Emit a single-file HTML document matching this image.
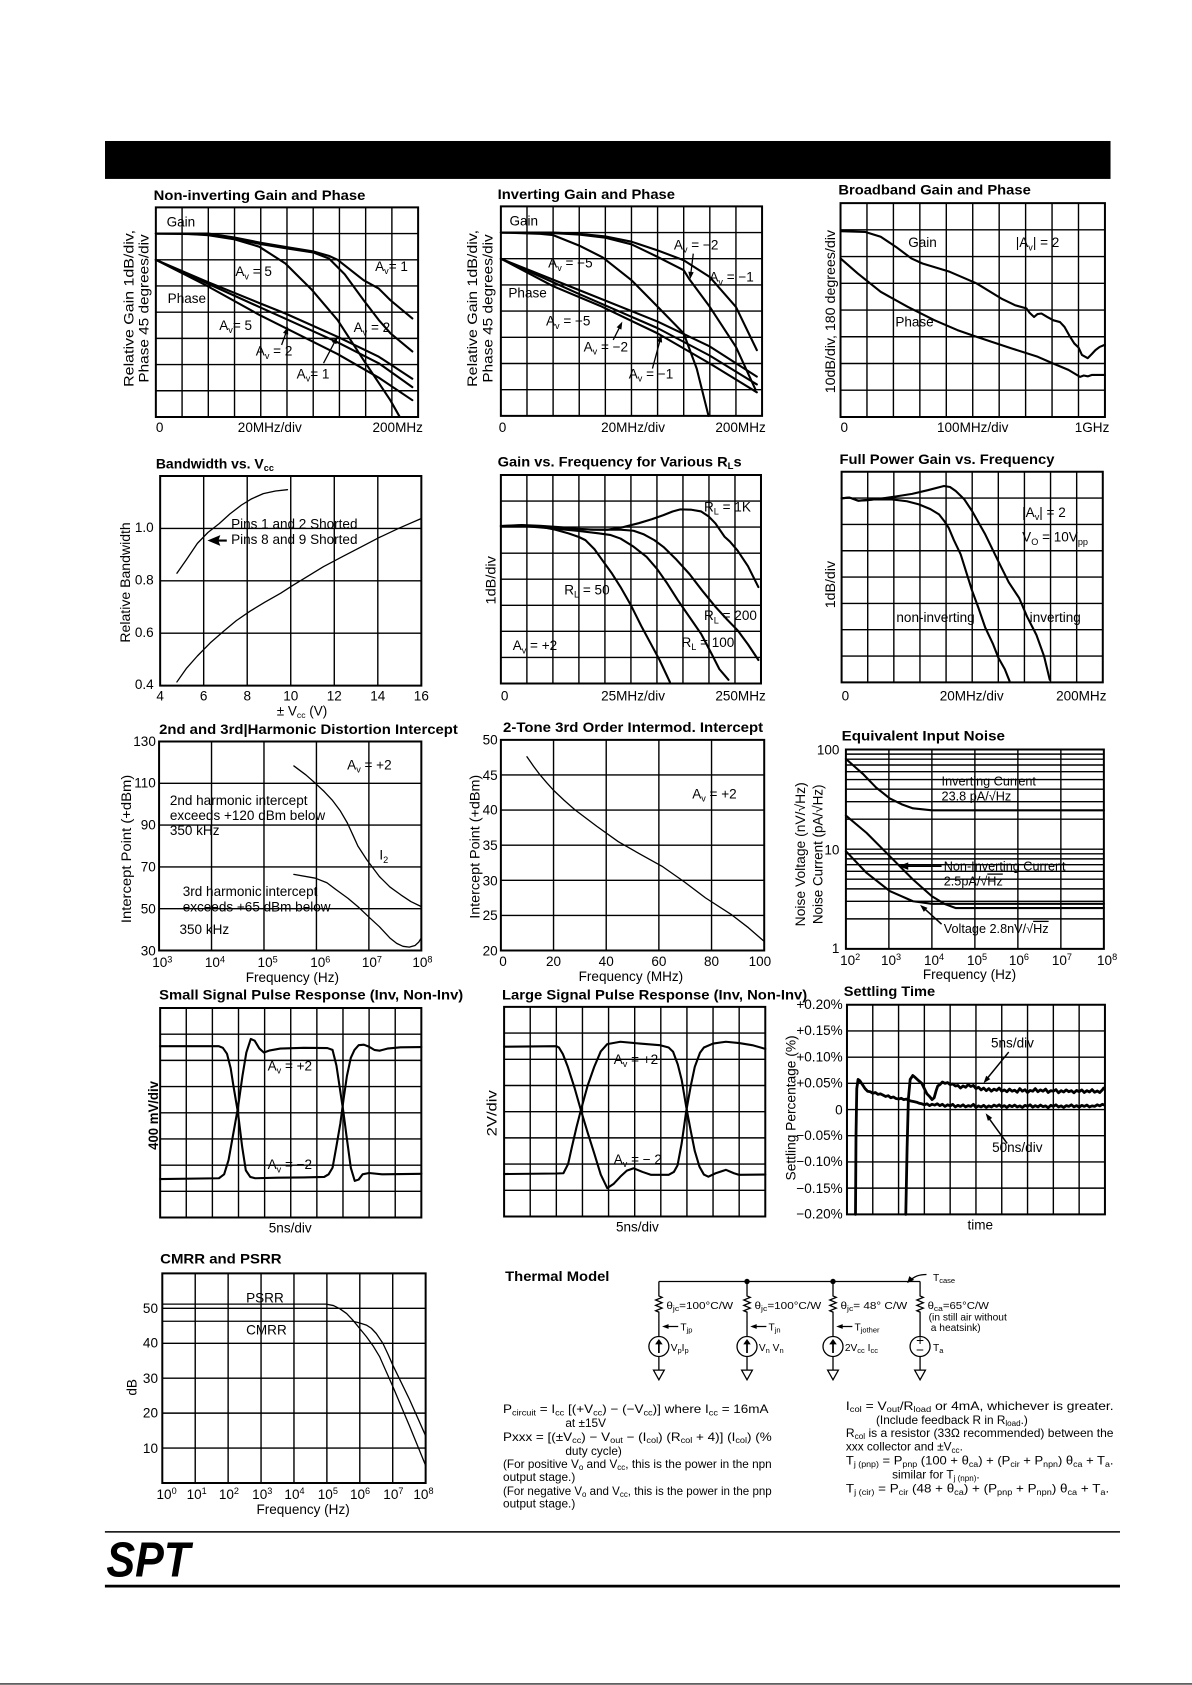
<!DOCTYPE html>
<html><head><meta charset="utf-8"><style>
html,body{margin:0;padding:0;background:#fff;}
svg{display:block;}
text{font-family:"Liberation Sans",Arial,sans-serif;font-size:12.6px;fill:#000;}
.tt{font-weight:bold;font-size:13px;}
.gr{fill:none;stroke:#000;stroke-width:1.4;vector-effect:non-scaling-stroke;}
.bx{fill:none;stroke:#000;stroke-width:2;vector-effect:non-scaling-stroke;}
.cv{fill:none;stroke:#000;stroke-width:2.1;stroke-linejoin:round;stroke-linecap:round;vector-effect:non-scaling-stroke;}
.cn{fill:none;stroke:#000;stroke-width:1.3;stroke-linejoin:round;stroke-linecap:round;vector-effect:non-scaling-stroke;}
.ck{fill:none;stroke:#000;stroke-width:2.8;stroke-linejoin:round;stroke-linecap:round;vector-effect:non-scaling-stroke;}
.ln{fill:none;stroke:#000;stroke-width:1.2;}
.sm{font-size:9.5px;}
.tx{font-size:11px;}
.nz{font-size:11.8px;}
</style></head><body>
<svg width="1192" height="1685" viewBox="0 0 1109 1568" preserveAspectRatio="none" xmlns="http://www.w3.org/2000/svg">
<rect x="0" y="0" width="1109" height="1568" fill="#fff"/>
<rect x="97.7" y="131.2" width="935.5" height="35.3" fill="#000"/>

<!-- ============ C1 Non-inverting ============ -->
<text class="tt" x="143" y="186" textLength="197" lengthAdjust="spacingAndGlyphs">Non-inverting Gain and Phase</text>
<g transform="translate(145,193) scale(24.4,24.375)">
<path class="gr" d="M1,0V8M2,0V8M3,0V8M4,0V8M5,0V8M6,0V8M7,0V8M8,0V8M9,0V8M0,1H10M0,2H10M0,3H10M0,4H10M0,5H10M0,6H10M0,7H10"/>
<path class="bx" d="M0,0H10V8H0Z"/>
<path class="cv" d="M0,1 L1,1 L2,1.06 L3,1.22 L3.94,1.5 L4.94,2.14 L5.96,3.16 L6.93,4.3 L7.92,5.83 L8.94,7.36 L9.3,8"/>
<path class="cv" d="M0,1 L2,1.03 L3,1.2 L4,1.4 L5,1.57 L6,1.72 L6.6,1.95 L7.2,2.55 L7.92,3.54 L8.5,4.3 L8.94,4.8 L9.78,5.5"/>
<path class="cv" d="M0,1 L2,1.0 L3,1.15 L4,1.35 L5,1.52 L6,1.68 L6.6,1.85 L6.93,2.0 L7.92,2.78 L8.5,3.1 L8.94,3.54 L9.78,4.24"/>
<path class="cv" d="M0,2 L1.96,2.84 L3.94,3.65 L4.94,4.05 L6.93,4.94 L8.5,5.7 L9.78,6.54"/>
<path class="cv" d="M0,2 L1.96,2.9 L3.94,3.8 L4.94,4.25 L6.93,5.15 L8.5,5.95 L9.78,6.86"/>
<path class="cv" d="M0,2 L1.96,3.0 L3.94,4.1 L4.94,4.6 L6.93,5.6 L8.5,6.5 L9.78,7.36"/>
</g>
<path class="ln" d="M262,321 L266.5,308.5 M301,338 L311.5,318"/>
<polygon points="268,304 268.1,311.4 263.3,309.8"/>
<polygon points="314,313 313,320.4 308.6,318.1"/>
<text x="155" y="211">Gain</text>
<text x="219" y="257">A<tspan font-size="8.5" dy="3">v</tspan><tspan dy="-3"> = 5</tspan></text>
<text x="349" y="252">A<tspan font-size="8.5" dy="3">v</tspan><tspan dy="-3">= 1</tspan></text>
<text x="156" y="282">Phase</text>
<text x="204" y="307">A<tspan font-size="8.5" dy="3">v</tspan><tspan dy="-3">= 5</tspan></text>
<text x="329" y="309">A<tspan font-size="8.5" dy="3">v</tspan><tspan dy="-3"> = 2</tspan></text>
<text x="238" y="331">A<tspan font-size="8.5" dy="3">v</tspan><tspan dy="-3"> = 2</tspan></text>
<text x="276" y="352">A<tspan font-size="8.5" dy="3">v</tspan><tspan dy="-3">= 1</tspan></text>
<text x="145" y="402">0</text>
<text x="251" y="402" text-anchor="middle">20MHz/div</text>
<text x="370" y="402" text-anchor="middle">200MHz</text>
<text transform="translate(124,287) rotate(-90)" text-anchor="middle" font-size="12.5" textLength="146" lengthAdjust="spacingAndGlyphs">Relative Gain 1dB/div,</text>
<text transform="translate(138,287) rotate(-90)" text-anchor="middle" font-size="12.5" textLength="138" lengthAdjust="spacingAndGlyphs">Phase 45 degrees/div</text>

<!-- ============ C2 Inverting ============ -->
<text class="tt" x="463" y="185" textLength="165" lengthAdjust="spacingAndGlyphs">Inverting Gain and Phase</text>
<g transform="translate(466,192) scale(24.3,24.375)">
<path class="gr" d="M1,0V8M2,0V8M3,0V8M4,0V8M5,0V8M6,0V8M7,0V8M8,0V8M9,0V8M0,1H10M0,2H10M0,3H10M0,4H10M0,5H10M0,6H10M0,7H10"/>
<path class="bx" d="M0,0H10V8H0Z"/>
<path class="cv" d="M0,1 L1.5,1.05 L2,1.1 L3,1.5 L3.9,1.95 L5,2.82 L6,3.83 L7,4.85 L7.5,6.2 L7.95,8"/>
<path class="cv" d="M0,1 L2,1.02 L3,1.08 L4,1.2 L5,1.45 L6,1.93 L7,2.44 L7.2,2.76 L8,3.84 L9,5.37 L9.75,7"/>
<path class="cv" d="M0,1 L2,1.0 L3,1.05 L4,1.15 L5,1.35 L6,1.68 L7,2.06 L8,2.7 L9,3.84 L9.8,5.49"/>
<path class="cv" d="M0,2 L3,3.2 L6,4.4 L8,5.35 L9.8,6.5"/>
<path class="cv" d="M0,2 L3,3.35 L6,4.65 L8,5.7 L9.8,6.8"/>
<path class="cv" d="M0,2 L2,3.05 L3.8,3.8 L6,4.85 L8,6.0 L9.8,7.1"/>
</g>
<path class="ln" d="M645,236 L642.8,254 M570.5,316.3 L576.5,304.5 M607,343 L614,317"/>
<polygon points="642,260 645.4,253.4 640.4,252.8"/>
<polygon points="579,299.3 578.1,306.7 573.7,304.5"/>
<polygon points="615.4,311.4 616,318.8 611.2,317.5"/>
<text x="474" y="210">Gain</text>
<text x="510" y="249">A<tspan font-size="8.5" dy="3">v</tspan><tspan dy="-3"> = −5</tspan></text>
<text x="473" y="277">Phase</text>
<text x="508" y="303">A<tspan font-size="8.5" dy="3">v</tspan><tspan dy="-3"> = −5</tspan></text>
<text x="543" y="327">A<tspan font-size="8.5" dy="3">v</tspan><tspan dy="-3"> = −2</tspan></text>
<text x="585" y="352">A<tspan font-size="8.5" dy="3">v</tspan><tspan dy="-3"> = −1</tspan></text>
<text x="627" y="232">A<tspan font-size="8.5" dy="3">v</tspan><tspan dy="-3"> = −2</tspan></text>
<text x="660" y="262">A<tspan font-size="8.5" dy="3">v</tspan><tspan dy="-3"> = −1</tspan></text>
<text x="464" y="402">0</text>
<text x="589" y="402" text-anchor="middle">20MHz/div</text>
<text x="689" y="402" text-anchor="middle">200MHz</text>
<text transform="translate(444,287) rotate(-90)" text-anchor="middle" font-size="12.5" textLength="146" lengthAdjust="spacingAndGlyphs">Relative Gain 1dB/div,</text>
<text transform="translate(458,287) rotate(-90)" text-anchor="middle" font-size="12.5" textLength="138" lengthAdjust="spacingAndGlyphs">Phase 45 degrees/div</text>

<!-- ============ C3 Broadband ============ -->
<text class="tt" x="780" y="181" textLength="179" lengthAdjust="spacingAndGlyphs">Broadband Gain and Phase</text>
<g transform="translate(782,189) scale(24.6,24.875)">
<path class="gr" d="M1,0V8M2,0V8M3,0V8M4,0V8M5,0V8M6,0V8M7,0V8M8,0V8M9,0V8M0,1H10M0,2H10M0,3H10M0,4H10M0,5H10M0,6H10M0,7H10"/>
<path class="bx" d="M0,0H10V8H0Z"/>
<path class="cv" d="M0,1.05 L0.94,1.08 L1.52,1.26 L2.1,1.64 L2.68,2.07 L3.1,2.26 L4.13,2.57 L5.14,3.0 L6.08,3.57 L6.6,3.82 L7.03,3.94 L7.15,4.1 L7.32,4.26 L7.45,4.15 L7.6,4.13 L7.8,4.25 L8.04,4.38 L8.3,4.45 L8.47,4.63 L8.65,4.95 L8.84,5.25 L9.0,5.4 L9.13,5.68 L9.35,5.8 L9.5,5.65 L9.64,5.5 L9.8,5.38 L10,5.3"/>
<path class="cv" d="M0,2.07 L0.65,2.63 L1.52,3.32 L2.54,3.88 L3.55,4.38 L4.42,4.75 L5.14,5.0 L6.45,5.43 L7.46,5.75 L8.04,6.0 L8.62,6.24 L9.06,6.5 L9.2,6.45 L9.35,6.48 L9.5,6.43 L10,6.43"/>
</g>
<text x="845" y="230">Gain</text>
<text x="945" y="230">|A<tspan font-size="8.5" dy="3">v</tspan><tspan dy="-3">| = 2</tspan></text>
<text x="833" y="304">Phase</text>
<text x="782" y="402">0</text>
<text x="905" y="402" text-anchor="middle">100MHz/div</text>
<text x="1016" y="402" text-anchor="middle">1GHz</text>
<text transform="translate(777,290) rotate(-90)" text-anchor="middle" font-size="12.5" textLength="152" lengthAdjust="spacingAndGlyphs">10dB/div, 180 degrees/div</text>

<!-- ============ C4 Bandwidth ============ -->
<text class="tt" x="145" y="436">Bandwidth vs. V<tspan font-size="8.5" dy="2.5">cc</tspan></text>
<g transform="translate(149,443) scale(20.25,24.375)">
<path class="gr" d="M2,0V8M4,0V8M6,0V8M8,0V8M10,0V8M0,2H12M0,4H12M0,6H12"/>
<path class="bx" d="M0,0H12V8H0Z"/>
<path class="cn" d="M0.77,3.71 L1.2,3.2 L1.71,2.57 L2.2,2.15 L2.72,1.81 L3.2,1.45 L3.73,1.11 L4.2,0.87 L4.74,0.67 L5.3,0.57 L5.85,0.52"/>
<path class="cn" d="M0.77,7.86 L1.2,7.35 L1.71,6.87 L2.3,6.37 L2.92,5.92 L3.5,5.52 L4.13,5.16 L4.8,4.82 L5.54,4.47 L6.1,4.17 L6.75,3.84 L7.5,3.46 L8.37,3.08 L9.2,2.72 L9.98,2.38 L11,1.98 L12,1.62"/>
</g>
<text x="215" y="492">Pins 1 and 2 Shorted</text>
<text x="215" y="506">Pins 8 and 9 Shorted</text>
<polygon points="193,503 205,498 203.5,502 211,502 211,504 203.5,504 205,508"/>
<text x="143" y="495" text-anchor="end">1.0</text>
<text x="143" y="544" text-anchor="end">0.8</text>
<text x="143" y="593" text-anchor="end">0.6</text>
<text x="143" y="641" text-anchor="end">0.4</text>
<text x="149" y="652" text-anchor="middle">4</text>
<text x="189.5" y="652" text-anchor="middle">6</text>
<text x="230" y="652" text-anchor="middle">8</text>
<text x="270.5" y="652" text-anchor="middle">10</text>
<text x="311" y="652" text-anchor="middle">12</text>
<text x="351.5" y="652" text-anchor="middle">14</text>
<text x="392" y="652" text-anchor="middle">16</text>
<text x="281" y="666" text-anchor="middle" font-size="11.5">± V<tspan font-size="8" dy="2">cc</tspan><tspan dy="-2"> (V)</tspan></text>
<text transform="translate(121,542) rotate(-90)" text-anchor="middle" font-size="12.5" textLength="112" lengthAdjust="spacingAndGlyphs">Relative Bandwidth</text>

<!-- ============ C5 Gain vs RL ============ -->
<text class="tt" x="463" y="434" textLength="227" lengthAdjust="spacingAndGlyphs">Gain vs. Frequency for Various R<tspan font-size="8.5" dy="2.5">L</tspan><tspan dy="-2.5">s</tspan></text>
<g transform="translate(466,442) scale(24.2,24.25)">
<path class="gr" d="M1,0V8M2,0V8M3,0V8M4,0V8M5,0V8M6,0V8M7,0V8M8,0V8M9,0V8M0,1H10M0,2H10M0,3H10M0,4H10M0,5H10M0,6H10M0,7H10"/>
<path class="bx" d="M0,0H10V8H0Z"/>
<path class="cv" d="M0,1.96 L0.8,1.92 L1.5,1.95 L2.2,2.0 L2.9,2.06 L3.5,2.1 L4.1,2.1 L4.7,2.0 L5.3,1.85 L5.8,1.7 L6.25,1.54 L6.6,1.4 L6.9,1.32 L7.3,1.33 L7.7,1.4 L8.0,1.6 L8.25,1.86 L8.6,2.37 L8.8,2.55 L9.1,2.9 L9.5,3.5 L9.9,4.3"/>
<path class="cv" d="M0,1.96 L1.0,1.95 L2.0,2.02 L2.9,2.08 L3.8,2.1 L4.6,2.1 L5.1,2.14 L5.5,2.28 L5.9,2.5 L6.25,2.76 L6.75,3.25 L7.25,3.8 L7.75,4.45 L8.25,5.06 L8.7,5.55 L9.1,5.96 L9.5,6.5 L9.9,7.1"/>
<path class="cv" d="M0,1.96 L1.0,1.97 L2.0,2.05 L3.0,2.15 L3.75,2.24 L4.2,2.3 L4.6,2.44 L5.1,2.75 L5.6,3.14 L6.0,3.6 L6.4,4.17 L6.8,4.8 L7.25,5.45 L7.7,6.1 L8.1,6.86 L8.4,7.45 L8.75,7.86"/>
<path class="cv" d="M0,1.96 L0.8,1.93 L1.5,1.98 L2.1,2.1 L2.6,2.24 L3.0,2.38 L3.25,2.5 L3.6,2.85 L3.9,3.27 L4.25,3.75 L4.6,4.3 L5.0,5.0 L5.4,5.8 L5.75,6.45 L6.1,7.1 L6.5,7.95"/>
</g>
<text x="655" y="476">R<tspan font-size="8.5" dy="3">L</tspan><tspan dy="-3"> = 1K</tspan></text>
<text x="525" y="553">R<tspan font-size="8.5" dy="3">L</tspan><tspan dy="-3"> = 50</tspan></text>
<text x="655" y="577">R<tspan font-size="8.5" dy="3">L</tspan><tspan dy="-3"> = 200</tspan></text>
<text x="477" y="605">A<tspan font-size="8.5" dy="3">v</tspan><tspan dy="-3"> = +2</tspan></text>
<text x="634" y="602">R<tspan font-size="8.5" dy="3">L</tspan><tspan dy="-3"> = 100</tspan></text>
<text x="466" y="652">0</text>
<text x="589" y="652" text-anchor="middle">25MHz/div</text>
<text x="689" y="652" text-anchor="middle">250MHz</text>
<text transform="translate(461,540) rotate(-90)" text-anchor="middle" font-size="12.5" textLength="45" lengthAdjust="spacingAndGlyphs">1dB/div</text>

<!-- ============ C6 Full Power ============ -->
<text class="tt" x="781" y="432" textLength="200" lengthAdjust="spacingAndGlyphs">Full Power Gain vs. Frequency</text>
<g transform="translate(783,439) scale(24.3,24.5)">
<path class="gr" d="M1,0V8M2,0V8M3,0V8M4,0V8M5,0V8M6,0V8M7,0V8M8,0V8M9,0V8M0,1H10M0,2H10M0,3H10M0,4H10M0,5H10M0,6H10M0,7H10"/>
<path class="bx" d="M0,0H10V8H0Z"/>
<path class="cv" d="M0,1.01 L0.3,0.98 L0.64,1.1 L1.0,1.08 L1.5,1.02 L2.0,0.95 L2.7,0.84 L3.3,0.7 L3.92,0.54 L4.15,0.58 L4.37,0.73 L4.7,1.05 L5.0,1.5 L5.5,2.38 L6.0,3.4 L6.4,4.2 L6.8,4.8 L7.1,5.5 L7.46,6.2 L7.75,7.0 L7.97,7.9"/>
<path class="cv" d="M0,1.01 L0.3,0.98 L0.64,1.1 L1.2,1.05 L1.93,1.05 L2.5,1.12 L2.96,1.24 L3.4,1.42 L3.73,1.62 L3.95,1.9 L4.1,2.13 L4.3,2.6 L4.56,3.14 L4.8,3.9 L5.0,4.53 L5.25,5.2 L5.5,5.92 L5.8,6.55 L6.0,7.06 L6.25,7.5 L6.43,7.95"/>
</g>
<text x="951" y="481">|A<tspan font-size="8.5" dy="3">v</tspan><tspan dy="-3">| = 2</tspan></text>
<text x="951" y="504">V<tspan font-size="8.5" dy="3">O</tspan><tspan dy="-3"> = 10V</tspan><tspan font-size="8.5" dy="3">pp</tspan></text>
<text x="834" y="579">non-inverting</text>
<text x="958" y="579">inverting</text>
<text x="783" y="652">0</text>
<text x="904" y="652" text-anchor="middle">20MHz/div</text>
<text x="1006" y="652" text-anchor="middle">200MHz</text>
<text transform="translate(777,544) rotate(-90)" text-anchor="middle" font-size="12.5" textLength="44" lengthAdjust="spacingAndGlyphs">1dB/div</text>

<!-- ============ C7 Harmonic ============ -->
<text class="tt" x="148" y="683" textLength="278" lengthAdjust="spacingAndGlyphs">2nd and 3rd|Harmonic Distortion Intercept</text>
<g transform="translate(148,690) scale(48.8,38.9)">
<path class="gr" d="M1,0V5M2,0V5M3,0V5M4,0V5M0,1H5M0,2H5M0,3H5M0,4H5"/>
<path class="bx" d="M0,0H5V5H0Z"/>
<path class="cn" d="M2.57,0.585 L2.8,0.8 L2.98,1.0 L3.15,1.2 L3.3,1.4 L3.45,1.65 L3.59,1.95 L3.7,2.25 L3.79,2.5 L3.96,2.83 L4.2,3.23 L4.4,3.48 L4.61,3.67 L4.8,3.83 L5.0,3.95"/>
<path class="cn" d="M2.57,3.18 L2.98,3.27 L3.2,3.38 L3.38,3.55 L3.6,3.75 L3.79,3.95 L4.0,4.2 L4.2,4.43 L4.4,4.7 L4.53,4.83 L4.65,4.9 L4.77,4.92 L4.88,4.88 L4.95,4.8 L5.0,4.7"/>
</g>
<text x="323" y="716">A<tspan font-size="8.5" dy="3">v</tspan><tspan dy="-3"> = +2</tspan></text>
<text x="158" y="749">2nd harmonic intercept</text>
<text x="158" y="763">exceeds +120 dBm below</text>
<text x="158" y="777">350 kHz</text>
<text x="353" y="800">I<tspan font-size="8.5" dy="3">2</tspan></text>
<text x="170" y="834">3rd harmonic intercept</text>
<text x="170" y="848">exceeds +65 dBm below</text>
<text x="167" y="869">350 kHz</text>
<text x="145" y="694" text-anchor="end">130</text>
<text x="145" y="733" text-anchor="end">110</text>
<text x="145" y="772" text-anchor="end">90</text>
<text x="145" y="811" text-anchor="end">70</text>
<text x="145" y="850" text-anchor="end">50</text>
<text x="145" y="889" text-anchor="end">30</text>
<text x="151" y="900" text-anchor="middle">10<tspan font-size="8.5" dy="-4.5">3</tspan></text>
<text x="200" y="900" text-anchor="middle">10<tspan font-size="8.5" dy="-4.5">4</tspan></text>
<text x="249" y="900" text-anchor="middle">10<tspan font-size="8.5" dy="-4.5">5</tspan></text>
<text x="298" y="900" text-anchor="middle">10<tspan font-size="8.5" dy="-4.5">6</tspan></text>
<text x="346" y="900" text-anchor="middle">10<tspan font-size="8.5" dy="-4.5">7</tspan></text>
<text x="393" y="900" text-anchor="middle">10<tspan font-size="8.5" dy="-4.5">8</tspan></text>
<text x="272" y="914" text-anchor="middle">Frequency (Hz)</text>
<text transform="translate(122,790) rotate(-90)" text-anchor="middle" font-size="12.5" textLength="138" lengthAdjust="spacingAndGlyphs">Intercept Point (+dBm)</text>

<!-- ============ C8 2-Tone ============ -->
<text class="tt" x="468" y="681" textLength="242" lengthAdjust="spacingAndGlyphs">2-Tone 3rd Order Intermod. Intercept</text>
<g transform="translate(466,688.5) scale(49,32.67)">
<path class="gr" d="M1,0V6M2,0V6M3,0V6M4,0V6M0,1H5M0,2H5M0,3H5M0,4H5M0,5H5"/>
<path class="bx" d="M0,0H5V6H0Z"/>
<path class="cn" d="M0.495,0.48 L0.62,0.75 L0.745,1.0 L0.87,1.22 L0.99,1.42 L1.2,1.72 L1.405,1.99 L1.82,2.46 L2.23,2.9 L2.65,3.26 L3.06,3.6 L3.47,4.03 L3.885,4.5 L4.38,4.98 L4.7,5.35 L5,5.74"/>
</g>
<text x="644" y="743">A<tspan font-size="8.5" dy="3">v</tspan><tspan dy="-3"> = +2</tspan></text>
<text x="463" y="693" text-anchor="end">50</text>
<text x="463" y="726" text-anchor="end">45</text>
<text x="463" y="758" text-anchor="end">40</text>
<text x="463" y="791" text-anchor="end">35</text>
<text x="463" y="824" text-anchor="end">30</text>
<text x="463" y="856" text-anchor="end">25</text>
<text x="463" y="889" text-anchor="end">20</text>
<text x="468" y="899" text-anchor="middle">0</text>
<text x="515" y="899" text-anchor="middle">20</text>
<text x="564" y="899" text-anchor="middle">40</text>
<text x="613" y="899" text-anchor="middle">60</text>
<text x="662" y="899" text-anchor="middle">80</text>
<text x="707" y="899" text-anchor="middle">100</text>
<text x="587" y="913" text-anchor="middle">Frequency (MHz)</text>
<text transform="translate(446,788) rotate(-90)" text-anchor="middle" font-size="12.5" textLength="134" lengthAdjust="spacingAndGlyphs">Intercept Point (+dBm)</text>

<!-- ============ C9 Noise ============ -->
<text class="tt" x="783" y="689" textLength="152" lengthAdjust="spacingAndGlyphs">Equivalent Input Noise</text>
<g transform="translate(787,697.5) scale(40,92.75)">
<path class="gr" d="M1,0V2M2,0V2M3,0V2M4,0V2M5,0V2M0,0.046H6M0,0.097H6M0,0.155H6M0,0.222H6M0,0.301H6M0,0.398H6M0,0.523H6M0,0.699H6M0,1H6M0,1.046H6M0,1.097H6M0,1.155H6M0,1.222H6M0,1.301H6M0,1.398H6M0,1.523H6M0,1.699H6"/>
<path class="bx" d="M0,0H6V2H0Z"/>
<path class="cv" d="M0,0.094 L0.2,0.17 L0.41,0.25 L0.7,0.38 L1.02,0.49 L1.3,0.55 L1.56,0.59 L2.0,0.61 L6,0.61"/>
<path class="cv" d="M0,0.662 L0.48,0.836 L1.02,1.07 L1.56,1.304 L2.0,1.472 L2.3,1.55 L2.55,1.59 L6,1.59"/>
<path class="cv" d="M0,1.02 L0.48,1.237 L1.02,1.42 L1.56,1.522 L2.0,1.548 L6,1.548"/>
</g>
<text class="nz" x="876" y="731">Inverting Current</text>
<text class="nz" x="876" y="745">23.8 pA/√<tspan text-decoration="overline">Hz</tspan></text>
<text class="nz" x="878" y="810">Non-Inverting Current</text>
<text class="nz" x="878" y="824">2.5pA/√<tspan text-decoration="overline">Hz</tspan></text>
<text class="nz" x="878" y="868">Voltage 2.8nV/√<tspan text-decoration="overline">Hz</tspan></text>
<path class="ln" d="M876,806H842" style="stroke-width:1.6"/>
<polygon points="836,806 845,802.5 845,809.5"/>
<path class="ln" d="M876,860 L860,845.5" style="stroke-width:1.4"/>
<polygon points="856,842 862.9,844.8 859.5,848.6"/>
<text x="781" y="702" text-anchor="end">100</text>
<text x="781" y="795" text-anchor="end">10</text>
<text x="781" y="887" text-anchor="end">1</text>
<text x="791" y="898" text-anchor="middle">10<tspan font-size="8.5" dy="-4.5">2</tspan></text>
<text x="829" y="898" text-anchor="middle">10<tspan font-size="8.5" dy="-4.5">3</tspan></text>
<text x="869" y="898" text-anchor="middle">10<tspan font-size="8.5" dy="-4.5">4</tspan></text>
<text x="909" y="898" text-anchor="middle">10<tspan font-size="8.5" dy="-4.5">5</tspan></text>
<text x="948" y="898" text-anchor="middle">10<tspan font-size="8.5" dy="-4.5">6</tspan></text>
<text x="988" y="898" text-anchor="middle">10<tspan font-size="8.5" dy="-4.5">7</tspan></text>
<text x="1030" y="898" text-anchor="middle">10<tspan font-size="8.5" dy="-4.5">8</tspan></text>
<text x="902" y="911" text-anchor="middle">Frequency (Hz)</text>
<text transform="translate(749,795) rotate(-90)" text-anchor="middle" font-size="12.5" textLength="134" lengthAdjust="spacingAndGlyphs">Noise Voltage (nV/√Hz)</text>
<text transform="translate(765,795) rotate(-90)" text-anchor="middle" font-size="12.5" textLength="130" lengthAdjust="spacingAndGlyphs">Noise Current (pA/√Hz)</text>

<!-- ============ C10 Small Signal ============ -->
<text class="tt" x="148" y="930" textLength="283" lengthAdjust="spacingAndGlyphs">Small Signal Pulse Response (Inv, Non-Inv)</text>
<g transform="translate(149,938) scale(24.3,24.375)">
<path class="gr" d="M1,0V8M2,0V8M3,0V8M4,0V8M5,0V8M6,0V8M7,0V8M8,0V8M9,0V8M0,1H10M0,2H10M0,3H10M0,4H10M0,5H10M0,6H10M0,7H10"/>
<path class="bx" d="M0,0H10V8H0Z"/>
<path class="cv" d="M0,1.46 L2.25,1.46 L2.4,1.52 L2.56,1.75 L2.7,2.3 L2.81,3.0 L2.98,4.0 L3.14,5.3 L3.28,6.2 L3.45,6.45 L3.64,6.5 L4.5,6.48 L5.5,6.47 L6.28,6.45 L6.45,6.35 L6.6,6.1 L6.75,5.27 L6.9,4.4 L7.02,3.5 L7.15,2.6 L7.3,1.9 L7.44,1.6 L7.6,1.42 L7.8,1.4 L8.0,1.48 L8.2,1.6 L8.4,1.63 L8.7,1.55 L9.2,1.5 L10,1.49"/>
<path class="cv" d="M0,6.53 L2.25,6.5 L2.45,6.35 L2.62,5.8 L2.8,4.8 L2.98,3.8 L3.15,2.6 L3.3,1.7 L3.47,1.18 L3.62,1.25 L3.8,1.55 L3.97,1.7 L4.2,1.62 L4.6,1.55 L5.5,1.52 L6.4,1.53 L6.6,1.6 L6.75,2.2 L6.9,3.2 L7.02,4.0 L7.15,5.0 L7.3,6.1 L7.45,6.6 L7.6,6.55 L7.75,6.35 L8.0,6.3 L8.5,6.35 L10,6.33"/>
</g>
<text x="249" y="996">A<tspan font-size="8.5" dy="3">v</tspan><tspan dy="-3"> = +2</tspan></text>
<text x="249" y="1088">A<tspan font-size="8.5" dy="3">v</tspan><tspan dy="-3"> = −2</tspan></text>
<text x="270" y="1147" text-anchor="middle">5ns/div</text>
<text transform="translate(147,1038) rotate(-90)" text-anchor="middle" font-size="12.5" font-weight="bold" textLength="64" lengthAdjust="spacingAndGlyphs">400 mV/div</text>

<!-- ============ C11 Large Signal ============ -->
<text class="tt" x="467" y="930" textLength="284" lengthAdjust="spacingAndGlyphs">Large Signal Pulse Response (Inv, Non-Inv)</text>
<g transform="translate(469,937) scale(24.3,24.375)">
<path class="gr" d="M1,0V8M2,0V8M3,0V8M4,0V8M5,0V8M6,0V8M7,0V8M8,0V8M9,0V8M0,1H10M0,2H10M0,3H10M0,4H10M0,5H10M0,6H10M0,7H10"/>
<path class="bx" d="M0,0H10V8H0Z"/>
<path class="cv" d="M0,1.52 L2.0,1.5 L2.1,1.55 L2.25,1.8 L2.44,2.29 L2.7,3.1 L2.94,3.94 L3.2,4.8 L3.45,5.59 L3.7,6.4 L3.95,6.92 L4.2,6.75 L4.45,6.48 L4.7,6.25 L4.96,6.16 L5.3,6.3 L5.63,6.41 L6.3,6.41 L6.5,6.3 L6.64,6.05 L6.8,5.2 L6.97,4.0 L7.15,3.0 L7.3,2.29 L7.5,1.75 L7.65,1.55 L8.0,1.4 L8.49,1.33 L9.0,1.38 L9.5,1.46 L10,1.6"/>
<path class="cv" d="M0,6.38 L2.0,6.36 L2.27,6.35 L2.45,6.0 L2.6,5.33 L2.77,4.6 L2.94,3.94 L3.2,3.0 L3.45,2.29 L3.7,1.7 L3.95,1.42 L4.45,1.33 L5.2,1.4 L5.96,1.46 L6.3,1.55 L6.47,1.71 L6.65,2.2 L6.8,2.79 L6.97,3.8 L7.14,4.7 L7.3,5.5 L7.48,6.1 L7.65,6.4 L7.82,6.48 L8.1,6.35 L8.49,6.22 L8.8,6.35 L9.0,6.41 L10,6.4"/>
</g>
<text x="571" y="990">A<tspan font-size="8.5" dy="3">v</tspan><tspan dy="-3"> = +2</tspan></text>
<text x="571" y="1083">A<tspan font-size="8.5" dy="3">v</tspan><tspan dy="-3"> = − 2</tspan></text>
<text x="593" y="1146" text-anchor="middle">5ns/div</text>
<text transform="translate(462,1036) rotate(-90)" text-anchor="middle" font-size="12.5" textLength="43" lengthAdjust="spacingAndGlyphs">2V/div</text>

<!-- ============ C12 Settling ============ -->
<text class="tt" x="785" y="927" textLength="85" lengthAdjust="spacingAndGlyphs">Settling Time</text>
<g transform="translate(788,935) scale(24,24.375)">
<path class="gr" d="M1,0V8M2,0V8M3,0V8M4,0V8M5,0V8M6,0V8M7,0V8M8,0V8M9,0V8M0,1H10M0,2H10M0,3H10M0,4H10M0,5H10M0,6H10M0,7H10"/>
<path class="bx" d="M0,0H10V8H0Z"/>
<path class="ck" d="M2.28,8 L2.33,5.5 L2.38,3.6 L2.45,2.85 L2.55,2.7 L2.65,2.78 L2.78,2.9 L2.9,3.0 L3.0,3.2 L3.1,3.4 L3.2,3.5 L3.3,3.62 L3.38,3.55 L3.45,3.3 L3.52,3.1 L3.6,3.05 L3.7,2.95 L3.8,3.0 L3.9,2.97 L4.0,3.05 L4.1,3.02 L4.2,3.1 L4.3,3.08 L4.4,3.18 L4.5,3.1 L4.6,3.15 L4.7,3.05 L4.8,3.12 L4.9,3.08 L5.0,3.2 L5.1,3.15 L5.2,3.25 L5.3,3.18 L5.4,3.28 L5.5,3.2 L5.6,3.3 L5.7,3.22 L5.8,3.27 L5.9,3.18 L6.0,3.3 L6.1,3.25 L6.2,3.32 L6.3,3.22 L6.4,3.3 L6.5,3.26 L6.6,3.34 L6.7,3.2 L6.8,3.3 L6.9,3.24 L7.0,3.35 L7.1,3.27 L7.2,3.3 L7.3,3.2 L7.4,3.32 L7.5,3.25 L7.6,3.3 L7.7,3.22 L7.8,3.35 L7.9,3.28 L8.0,3.3 L8.1,3.24 L8.2,3.36 L8.3,3.28 L8.4,3.33 L8.5,3.25 L8.6,3.32 L8.7,3.28 L8.8,3.36 L8.9,3.27 L9.0,3.32 L9.1,3.25 L9.2,3.35 L9.3,3.28 L9.4,3.33 L9.5,3.24 L9.6,3.34 L9.7,3.29 L9.8,3.35 L9.9,3.25 L9.95,3.18"/>
<path class="ck" d="M0.33,8 L0.35,5 L0.38,3.2 L0.43,2.85 L0.5,2.9 L0.6,3.05 L0.7,3.2 L0.8,3.3 L0.9,3.32 L1.0,3.38 L1.1,3.35 L1.2,3.42 L1.3,3.4 L1.4,3.45 L1.5,3.5 L1.6,3.47 L1.7,3.55 L1.8,3.52 L1.9,3.58 L2.0,3.6 L2.1,3.57 L2.2,3.62 L2.3,3.6 L2.4,3.65 L2.5,3.68 L2.6,3.7 L2.7,3.72 L2.8,3.76 L2.9,3.78 L3.0,3.82 L3.1,3.78 L3.2,3.85 L3.3,3.8 L3.4,3.83 L3.5,3.78 L3.6,3.85 L3.7,3.8 L3.8,3.88 L3.9,3.82 L4.0,3.86 L4.1,3.8 L4.2,3.9 L4.3,3.84 L4.4,3.88 L4.5,3.82 L4.6,3.9 L4.7,3.85 L4.8,3.88 L4.9,3.8 L5.0,3.92 L5.1,3.86 L5.2,3.9 L5.3,3.84 L5.4,3.92 L5.5,3.86 L5.6,3.9 L5.7,3.83 L5.8,3.88 L5.9,3.82 L6.0,3.9 L6.1,3.85 L6.2,3.92 L6.3,3.84 L6.4,3.89 L6.5,3.83 L6.6,3.9 L6.7,3.86 L6.8,3.92 L6.9,3.84 L7.0,3.88 L7.1,3.82 L7.2,3.91 L7.3,3.85 L7.4,3.9 L7.5,3.83 L7.6,3.89 L7.7,3.86 L7.8,3.93 L7.9,3.84 L8.0,3.88 L8.1,3.82 L8.2,3.9 L8.3,3.86 L8.4,3.92 L8.5,3.85 L8.6,3.88 L8.7,3.82 L8.8,3.9 L8.9,3.85 L9.0,3.91 L9.1,3.84 L9.2,3.88 L9.3,3.83 L9.4,3.9 L9.5,3.86 L9.6,3.88 L9.7,3.82 L9.8,3.86 L9.9,3.8 L9.95,3.82"/>
</g>
<text x="922" y="975">5ns/div</text>
<text x="923" y="1072">50ns/div</text>
<path class="ln" d="M938.5,979 L918.5,1003.5" style="stroke-width:1.4"/>
<polygon points="915,1008 921.3,1004.2 917.5,1001"/>
<path class="ln" d="M937,1064 L920,1040.5" style="stroke-width:1.4"/>
<polygon points="917,1036 923.1,1040.2 919.1,1043.1"/>
<text x="784" y="939" text-anchor="end">+0.20%</text>
<text x="784" y="963" text-anchor="end">+0.15%</text>
<text x="784" y="988" text-anchor="end">+0.10%</text>
<text x="784" y="1012" text-anchor="end">+0.05%</text>
<text x="784" y="1037" text-anchor="end">0</text>
<text x="784" y="1061" text-anchor="end">−0.05%</text>
<text x="784" y="1085" text-anchor="end">−0.10%</text>
<text x="784" y="1110" text-anchor="end">−0.15%</text>
<text x="784" y="1134" text-anchor="end">−0.20%</text>
<text x="912" y="1144" text-anchor="middle">time</text>
<text transform="translate(740,1031) rotate(-90)" text-anchor="middle" font-size="12.5" textLength="135" lengthAdjust="spacingAndGlyphs">Settling Percentage (%)</text>

<!-- ============ C13 CMRR ============ -->
<text class="tt" x="149" y="1176" textLength="113" lengthAdjust="spacingAndGlyphs">CMRR and PSRR</text>
<g transform="translate(151,1185) scale(30.625,32.5)">
<path class="gr" d="M1,0V6M2,0V6M3,0V6M4,0V6M5,0V6M6,0V6M7,0V6M0,1H8M0,2H8M0,3H8M0,4H8M0,5H8"/>
<path class="bx" d="M0,0H8V6H0Z"/>
<path class="cn" d="M0,0.88 L4.98,0.88 L5.2,0.92 L5.39,1.01 L5.6,1.15 L5.79,1.34 L6.0,1.58 L6.2,1.81 L6.4,2.07 L6.6,2.38 L7.0,3.23 L7.51,4.37 L8,5.5"/>
<path class="cn" d="M0,1.37 L5.79,1.37 L6.0,1.42 L6.2,1.48 L6.35,1.57 L6.5,1.72 L6.7,2.0 L6.85,2.3 L7.0,2.62 L7.51,3.61 L8,4.65"/>
</g>
<text x="229" y="1212">PSRR</text>
<text x="229" y="1242">CMRR</text>
<text x="147" y="1222" text-anchor="end">50</text>
<text x="147" y="1254" text-anchor="end">40</text>
<text x="147" y="1287" text-anchor="end">30</text>
<text x="147" y="1319" text-anchor="end">20</text>
<text x="147" y="1352" text-anchor="end">10</text>
<text x="155" y="1395" text-anchor="middle">10<tspan font-size="8.5" dy="-4.5">0</tspan></text>
<text x="183" y="1395" text-anchor="middle">10<tspan font-size="8.5" dy="-4.5">1</tspan></text>
<text x="213" y="1395" text-anchor="middle">10<tspan font-size="8.5" dy="-4.5">2</tspan></text>
<text x="244" y="1395" text-anchor="middle">10<tspan font-size="8.5" dy="-4.5">3</tspan></text>
<text x="274" y="1395" text-anchor="middle">10<tspan font-size="8.5" dy="-4.5">4</tspan></text>
<text x="305" y="1395" text-anchor="middle">10<tspan font-size="8.5" dy="-4.5">5</tspan></text>
<text x="335" y="1395" text-anchor="middle">10<tspan font-size="8.5" dy="-4.5">6</tspan></text>
<text x="366" y="1395" text-anchor="middle">10<tspan font-size="8.5" dy="-4.5">7</tspan></text>
<text x="394" y="1395" text-anchor="middle">10<tspan font-size="8.5" dy="-4.5">8</tspan></text>
<text x="282" y="1409" text-anchor="middle">Frequency (Hz)</text>
<text transform="translate(127,1291) rotate(-90)" text-anchor="middle" font-size="12.5">dB</text>

<!-- ============ Thermal Model ============ -->
<text class="tt" x="470" y="1192" textLength="97" lengthAdjust="spacingAndGlyphs">Thermal Model</text>
<path class="ln" d="M613,1192.5H856"/>
<circle cx="695" cy="1192.5" r="2.5"/>
<circle cx="775" cy="1192.5" r="2.5"/>
<path class="ln" d="M613,1192.5V1206 l3,1.25 -6,2.5 6,2.5 -6,2.5 6,2.5 -6,2.5 3,1.25 V1243.7 M613,1262.3V1275 M608,1275H618L613,1284Z"/>
<path class="ln" d="M695,1192.5V1206 l3,1.25 -6,2.5 6,2.5 -6,2.5 6,2.5 -6,2.5 3,1.25 V1243.7 M695,1262.3V1275 M690,1275H700L695,1284Z"/>
<path class="ln" d="M775,1192.5V1206 l3,1.25 -6,2.5 6,2.5 -6,2.5 6,2.5 -6,2.5 3,1.25 V1243.7 M775,1262.3V1275 M770,1275H780L775,1284Z"/>
<path class="ln" d="M856,1192.5V1206 l3,1.25 -6,2.5 6,2.5 -6,2.5 6,2.5 -6,2.5 3,1.25 V1243.7 M856,1262.3V1275 M851,1275H861L856,1284Z"/>
<circle class="ln" cx="613" cy="1253" r="9.3"/>
<circle class="ln" cx="695" cy="1253" r="9.3"/>
<circle class="ln" cx="775" cy="1253" r="9.3"/>
<circle class="ln" cx="856" cy="1253" r="9.3"/>
<path class="ln" d="M613,1259V1249 M695,1259V1249 M775,1259V1249" style="stroke-width:1.6"/>
<polygon points="613,1246 609.5,1251 616.5,1251"/>
<polygon points="695,1246 691.5,1251 698.5,1251"/>
<polygon points="775,1246 771.5,1251 778.5,1251"/>
<text x="856" y="1251.5" text-anchor="middle" font-size="9">+</text>
<text x="856" y="1260.5" text-anchor="middle" font-size="9">−</text>
<path class="ln" d="M631,1234.4H620 M713,1234.4H702 M793,1234.4H782"/>
<polygon points="616,1234.4 622,1232.2 622,1236.6"/>
<polygon points="698,1234.4 704,1232.2 704,1236.6"/>
<polygon points="778,1234.4 784,1232.2 784,1236.6"/>
<text class="sm" x="620" y="1218" textLength="62" lengthAdjust="spacingAndGlyphs">θ<tspan font-size="7" dy="2">jc</tspan><tspan dy="-2">=100°C/W</tspan></text>
<text class="sm" x="702" y="1218" textLength="62" lengthAdjust="spacingAndGlyphs">θ<tspan font-size="7" dy="2">jc</tspan><tspan dy="-2">=100°C/W</tspan></text>
<text class="sm" x="782" y="1218" textLength="62" lengthAdjust="spacingAndGlyphs">θ<tspan font-size="7" dy="2">jc</tspan><tspan dy="-2">= 48° C/W</tspan></text>
<text class="sm" x="863" y="1218" textLength="57" lengthAdjust="spacingAndGlyphs">θ<tspan font-size="7" dy="2">ca</tspan><tspan dy="-2">=65°C/W</tspan></text>
<text class="sm" x="864" y="1229" font-size="8.5">(in still air without</text>
<text class="sm" x="866" y="1238.5" font-size="8.5">a heatsink)</text>
<text class="sm" x="633" y="1238">T<tspan font-size="7" dy="2">jp</tspan></text>
<text class="sm" x="715" y="1238">T<tspan font-size="7" dy="2">jn</tspan></text>
<text class="sm" x="795" y="1238">T<tspan font-size="7" dy="2">jother</tspan></text>
<text class="sm" x="624" y="1257">V<tspan font-size="7" dy="2">p</tspan><tspan dy="-2">I</tspan><tspan font-size="7" dy="2">p</tspan></text>
<text class="sm" x="706" y="1257">V<tspan font-size="7" dy="2">n</tspan><tspan dy="-2"> V</tspan><tspan font-size="7" dy="2">n</tspan></text>
<text class="sm" x="786" y="1257">2V<tspan font-size="7" dy="2">cc</tspan><tspan dy="-2"> I</tspan><tspan font-size="7" dy="2">cc</tspan></text>
<text class="sm" x="868" y="1257">T<tspan font-size="7" dy="2">a</tspan></text>
<text class="sm" x="868" y="1192">T<tspan font-size="7" dy="2">case</tspan></text>
<path class="ln" d="M862,1186 Q852,1186 847,1191.5"/>
<polygon points="844,1194 846,1187.5 850.5,1191"/>

<!-- ============ Text block ============ -->
<text class="tx" x="468" y="1315" textLength="247" lengthAdjust="spacingAndGlyphs">P<tspan font-size="7.5" dy="2">circuit</tspan><tspan dy="-2"> = I</tspan><tspan font-size="7.5" dy="2">cc</tspan><tspan dy="-2"> [(+V</tspan><tspan font-size="7.5" dy="2">cc</tspan><tspan dy="-2">) − (−V</tspan><tspan font-size="7.5" dy="2">cc</tspan><tspan dy="-2">)] where I</tspan><tspan font-size="7.5" dy="2">cc</tspan><tspan dy="-2"> = 16mA</tspan></text>
<text class="tx" x="526" y="1328">at ±15V</text>
<text class="tx" x="468" y="1341" textLength="250" lengthAdjust="spacingAndGlyphs">Pxxx  = [(±V<tspan font-size="7.5" dy="2">cc</tspan><tspan dy="-2">) − V</tspan><tspan font-size="7.5" dy="2">out</tspan><tspan dy="-2"> − (I</tspan><tspan font-size="7.5" dy="2">col</tspan><tspan dy="-2">) (R</tspan><tspan font-size="7.5" dy="2">col</tspan><tspan dy="-2"> + 4)] (I</tspan><tspan font-size="7.5" dy="2">col</tspan><tspan dy="-2">) (%</tspan></text>
<text class="tx" x="526" y="1354">duty cycle)</text>
<text class="tx" x="468" y="1366" textLength="250" lengthAdjust="spacingAndGlyphs">(For positive V<tspan font-size="7.5" dy="2">o</tspan><tspan dy="-2"> and V</tspan><tspan font-size="7.5" dy="2">cc</tspan><tspan dy="-2">, this is the power in the npn</tspan></text>
<text class="tx" x="468" y="1378">output stage.)</text>
<text class="tx" x="468" y="1391" textLength="250" lengthAdjust="spacingAndGlyphs">(For negative V<tspan font-size="7.5" dy="2">o</tspan><tspan dy="-2"> and V</tspan><tspan font-size="7.5" dy="2">cc</tspan><tspan dy="-2">, this is the power in the pnp</tspan></text>
<text class="tx" x="468" y="1403">output stage.)</text>

<text class="tx" x="787" y="1312" textLength="249" lengthAdjust="spacingAndGlyphs">I<tspan font-size="7.5" dy="2">col</tspan><tspan dy="-2"> = V</tspan><tspan font-size="7.5" dy="2">out</tspan><tspan dy="-2">/R</tspan><tspan font-size="7.5" dy="2">load</tspan><tspan dy="-2"> or 4mA, whichever is greater.</tspan></text>
<text class="tx" x="815" y="1325">(Include feedback R in R<tspan font-size="7.5" dy="2">load</tspan><tspan dy="-2">.)</tspan></text>
<text class="tx" x="787" y="1337" textLength="249" lengthAdjust="spacingAndGlyphs">R<tspan font-size="7.5" dy="2">col</tspan><tspan dy="-2"> is a resistor (33Ω recommended) between the</tspan></text>
<text class="tx" x="787" y="1350">xxx collector and ±V<tspan font-size="7.5" dy="2">cc</tspan><tspan dy="-2">.</tspan></text>
<text class="tx" x="787" y="1363" textLength="249" lengthAdjust="spacingAndGlyphs">T<tspan font-size="7.5" dy="2">j (pnp)</tspan><tspan dy="-2"> = P</tspan><tspan font-size="7.5" dy="2">pnp</tspan><tspan dy="-2"> (100 + θ</tspan><tspan font-size="7.5" dy="2">ca</tspan><tspan dy="-2">) + (P</tspan><tspan font-size="7.5" dy="2">cir</tspan><tspan dy="-2"> + P</tspan><tspan font-size="7.5" dy="2">npn</tspan><tspan dy="-2">) θ</tspan><tspan font-size="7.5" dy="2">ca</tspan><tspan dy="-2"> + T</tspan><tspan font-size="7.5" dy="2">a</tspan><tspan dy="-2">.</tspan></text>
<text class="tx" x="830" y="1376">similar for T<tspan font-size="7.5" dy="2">j (npn)</tspan><tspan dy="-2">.</tspan></text>
<text class="tx" x="787" y="1389" textLength="245" lengthAdjust="spacingAndGlyphs">T<tspan font-size="7.5" dy="2">j (cir)</tspan><tspan dy="-2"> = P</tspan><tspan font-size="7.5" dy="2">cir</tspan><tspan dy="-2"> (48 + θ</tspan><tspan font-size="7.5" dy="2">ca</tspan><tspan dy="-2">) + (P</tspan><tspan font-size="7.5" dy="2">pnp</tspan><tspan dy="-2"> + P</tspan><tspan font-size="7.5" dy="2">npn</tspan><tspan dy="-2">) θ</tspan><tspan font-size="7.5" dy="2">ca</tspan><tspan dy="-2"> + T</tspan><tspan font-size="7.5" dy="2">a</tspan><tspan dy="-2">.</tspan></text>

<!-- ============ Footer ============ -->
<path d="M97.6,1425.5H1042" stroke="#000" stroke-width="1.3"/>
<text x="99" y="1467" font-weight="bold" font-style="italic" textLength="78" lengthAdjust="spacingAndGlyphs" style="font-size:46px">SPT</text>
<path d="M97.6,1476H1042" stroke="#000" stroke-width="2.6"/>
<path d="M0,1567H1109" stroke="#000" stroke-width="1"/>
</svg>
</body></html>
